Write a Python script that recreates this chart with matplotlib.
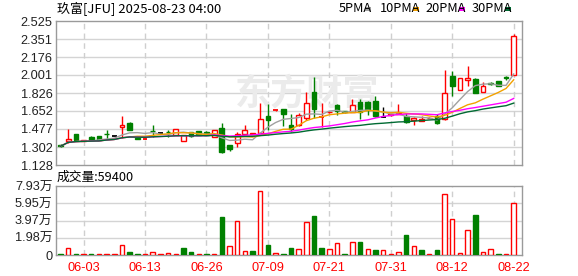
import numpy as np
import pandas as pd
import matplotlib
matplotlib.use("Agg")
import matplotlib.pyplot as plt
from matplotlib.patches import Rectangle

# ---------------- data ----------------
title = "玖富[JFU] 2025-08-23 04:00"
date_ticks = ["06-03", "06-13", "06-26", "07-09", "07-21", "07-31", "08-12", "08-22"]
date_tick_idx = [3, 11, 19, 27, 35, 43, 51, 59]

opens = [1.325, 1.362, 1.425, 1.362, 1.400, 1.410, 1.428, 1.414, 1.500, 1.535,
         1.392, 1.383, 1.458, 1.443, 1.450, 1.417, 1.362, 1.450, 1.455, 1.446,
         1.401, 1.490, 1.321, 1.337, 1.433, 1.432, 1.443, 1.600, 1.656, 1.668,
         1.513, 1.513, 1.584, 1.835, 1.592, 1.638, 1.710, 1.648, 1.642, 1.738,
         1.735, 1.745, 1.594, 1.610, 1.623, 1.600, 1.565, 1.558, 1.583, 1.600,
         1.575, 1.995, 1.857, 1.953, 1.963, 1.841, 1.928, 1.944, 1.985, 2.001]
highs = [1.330, 1.482, 1.430, 1.368, 1.405, 1.412, 1.472, 1.414, 1.600, 1.545,
         1.395, 1.388, 1.513, 1.443, 1.465, 1.478, 1.420, 1.452, 1.458, 1.456,
         1.468, 1.536, 1.323, 1.449, 1.513, 1.443, 1.725, 1.715, 1.660, 1.670,
         1.626, 1.636, 1.841, 1.985, 1.728, 1.655, 1.715, 1.652, 1.770, 1.764,
         1.745, 1.793, 1.687, 1.622, 1.716, 1.636, 1.594, 1.603, 1.590, 1.626,
         2.045, 2.043, 1.973, 2.091, 1.973, 1.937, 1.930, 1.946, 1.987, 2.397]
lows = [1.303, 1.345, 1.365, 1.360, 1.365, 1.367, 1.376, 1.414, 1.388, 1.470,
        1.378, 1.380, 1.395, 1.443, 1.401, 1.415, 1.360, 1.401, 1.417, 1.417,
        1.398, 1.245, 1.266, 1.305, 1.431, 1.425, 1.440, 1.470, 1.654, 1.510,
        1.449, 1.505, 1.560, 1.584, 1.497, 1.630, 1.610, 1.636, 1.640, 1.571,
        1.610, 1.595, 1.594, 1.608, 1.620, 1.540, 1.520, 1.555, 1.580, 1.530,
        1.568, 1.793, 1.857, 1.892, 1.825, 1.841, 1.908, 1.899, 1.957, 2.001]
closes = [1.310, 1.385, 1.370, 1.366, 1.369, 1.369, 1.424, 1.414, 1.520, 1.472,
          1.380, 1.386, 1.454, 1.443, 1.446, 1.475, 1.417, 1.405, 1.420, 1.418,
          1.465, 1.250, 1.279, 1.433, 1.465, 1.436, 1.571, 1.568, 1.659, 1.623,
          1.475, 1.616, 1.732, 1.674, 1.595, 1.642, 1.650, 1.640, 1.713, 1.642,
          1.658, 1.603, 1.594, 1.620, 1.636, 1.542, 1.584, 1.571, 1.587, 1.536,
          1.828, 1.892, 1.973, 1.973, 1.825, 1.899, 1.910, 1.899, 1.969, 2.377]
volumes = [1100, 7700, 1100, 700, 700, 700, 700, 700, 11100, 3400,
           1100, 1000, 3100, 1000, 2300, 1000, 8000, 3400, 1000, 1000,
           1000, 43700, 10000, 38700, 4200, 4600, 73200, 11100, 2300, 1100,
           7700, 6500, 37500, 44800, 8000, 6500, 13400, 1100, 14600, 14900,
           6500, 5700, 5400, 1100, 3100, 23000, 10000, 5700, 1100, 5700,
           69700, 41000, 2300, 28300, 46000, 3000, 6500, 1100, 1100, 59400]
vol_up = ["g", "r", "g", "r", "g", "r", "r", "r", "r", "g",
          "g", "r", "r", "r", "r", "r", "g", "g", "r", "g",
          "r", "g", "r", "r", "r", "g", "r", "g", "r", "g",
          "g", "r", "r", "g", "g", "r", "r", "g", "r", "g",
          "r", "g", "r", "r", "r", "g", "r", "g", "r", "g",
          "r", "r", "r", "r", "g", "r", "r", "g", "r", "r"]

price_ticks = ["1.128", "1.302", "1.477", "1.652", "1.826", "2.001", "2.176", "2.351", "2.525"]
vol_ticks = ["0", "1.98万", "3.97万", "5.95万", "7.93万"]
ma_windows = [5, 10, 20, 30]
ma_names = ["5PMA", "10PMA", "20PMA", "30PMA"]
last_volume = "成交量:59400"

# ---------------- style ----------------
RED = "#ff0000"
GREEN = "#008000"
MA_COLORS = ["#a0a0a0", "#f2a100", "#ff00ff", "#006a32"]
GRID = "#d4d4d4"
FRAME = "#9a9a9a"
TXT = "#222222"
NUMFONT = ["Liberation Sans", "Noto Sans CJK SC"]
CJK = ["Noto Sans CJK SC", "DejaVu Sans"]

W, H = 578, 276
fig = plt.figure(figsize=(W / 100, H / 100), dpi=100)
fig.patch.set_facecolor("white")


def ax_rect(l, t, r, b):
    return [l / W, 1 - b / H, (r - l) / W, (b - t) / H]


ax1 = fig.add_axes(ax_rect(56, 21, 522, 165))
ax2 = fig.add_axes(ax_rect(56, 186, 522, 255))

n = len(closes)
x = np.arange(n)
o = np.array(opens); c = np.array(closes); h = np.array(highs); lo = np.array(lows)
XL = (-0.59, 60.08)

# ---------- price panel ----------
pmin, pmax = 1.128, 2.525
ax1.set_xlim(*XL)
ax1.set_ylim(pmin, pmax)
ppos = np.linspace(pmin, pmax, len(price_ticks))
ax1.set_yticks(ppos)
ax1.set_yticklabels(price_ticks, family=NUMFONT, fontsize=9.2, color=TXT)
ax1.set_xticks([])
for yv in ppos[1:-1]:
    ax1.axhline(yv, color=GRID, lw=1, zorder=0)
for xi in date_tick_idx:
    ax1.axvline(xi, color="#cfcfcf", lw=1, ls=(0, (4, 3)), zorder=0)

ax1.text(0.54, 0.495, "东方财富", transform=ax1.transAxes, ha="center", va="center",
         fontsize=26, fontweight="bold", family=CJK, color="#ebebeb", zorder=0.5)

bw = 0.62
for i in range(n):
    if c[i] > o[i]:
        col = RED
    elif c[i] < o[i]:
        col = GREEN
    else:
        col = "#000000"
    top, bot = max(o[i], c[i]), min(o[i], c[i])
    ax1.vlines(x[i], lo[i], h[i], color=col, lw=1, zorder=2)
    if top - bot < 0.004:
        ax1.hlines((top + bot) / 2, x[i] - bw / 2, x[i] + bw / 2, color=col, lw=1.3, zorder=3)
    else:
        face = "white" if col == RED else col
        ax1.add_patch(Rectangle((x[i] - bw / 2, bot), bw, top - bot, facecolor=face,
                                edgecolor=col, lw=1, zorder=3))

cs = pd.Series(closes)
for win, colr in zip(ma_windows, MA_COLORS):
    ma = cs.rolling(win, min_periods=1).mean()
    ax1.plot(x, ma.values, color=colr, lw=1, zorder=4)

# ---------- volume panel ----------
vmax = 79300
ax2.set_xlim(*XL)
ax2.set_ylim(0, vmax)
vpos = np.linspace(0, vmax, len(vol_ticks))
ax2.set_yticks(vpos)
ax2.set_yticklabels(vol_ticks, family=NUMFONT, fontsize=9.2, color=TXT)
for yv in vpos[1:-1]:
    ax2.axhline(yv, color=GRID, lw=1, zorder=0)
for xi in date_tick_idx:
    ax2.axvline(xi, color="#cfcfcf", lw=1, ls=(0, (4, 3)), zorder=0)
vw = 0.58
for i in range(n):
    if vol_up[i] == "r":
        ax2.add_patch(Rectangle((x[i] - vw / 2, 0), vw, volumes[i], facecolor="white",
                                edgecolor=RED, lw=1, zorder=3))
    else:
        ax2.add_patch(Rectangle((x[i] - vw / 2, 0), vw, volumes[i], facecolor=GREEN,
                                edgecolor=GREEN, lw=1, zorder=3))
ax2.set_xticks(date_tick_idx)
ax2.set_xticklabels(date_ticks, family=NUMFONT, fontsize=9.2, color=RED)

for ax in (ax1, ax2):
    for s in ax.spines.values():
        s.set_color(FRAME)
        s.set_linewidth(1)
    ax.tick_params(length=0, pad=2.5)
ax2.tick_params(axis="x", pad=5)

# ---------- texts ----------
def fx(px):
    return px / W


def fy(py):
    return 1 - py / H


fig.text(fx(57), fy(8.5), title, family=CJK, fontsize=9.4, color="#000000", ha="left", va="center")
fig.text(fx(57), fy(177), last_volume, family=CJK, fontsize=9.2, color="#000000", ha="left", va="center")

legend_left = [338.3, 380, 425.7, 471.7]
square_left = [365, 413, 459, 505]
for name, lx, sx, colr in zip(ma_names, legend_left, square_left, MA_COLORS):
    fig.text(fx(lx), fy(8.5), name, family=CJK, fontsize=9.2, color="#000000", ha="left", va="center")
    fig.add_artist(Rectangle((fx(sx), fy(10.7)), 6 / W, 3.6 / H, transform=fig.transFigure,
                             facecolor=colr, edgecolor="none"))

fig.savefig("out.png", dpi=100, facecolor="white")
